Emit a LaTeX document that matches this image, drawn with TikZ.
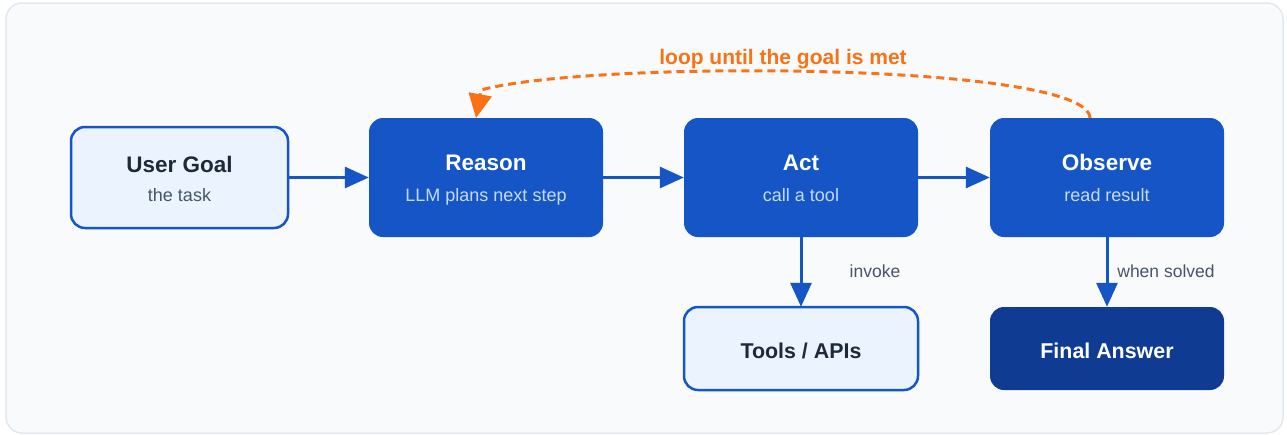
\documentclass[tikz,border=0pt]{standalone}
\usepackage{fontspec}
\setmainfont{Liberation Sans}
\usetikzlibrary{arrows.meta}
\definecolor{frameborder}{HTML}{E2E8F0}
\definecolor{framefill}{HTML}{F8FAFC}
\definecolor{mainblue}{HTML}{1555C5}
\definecolor{lightfill}{HTML}{EBF3FE}
\definecolor{darkblue}{HTML}{0F3C92}
\definecolor{darktext}{HTML}{1E293B}
\definecolor{graytext}{HTML}{475569}
\definecolor{subwhite}{HTML}{C6DBFB}
\definecolor{loopcol}{HTML}{F97316}
\tikzset{
  lightbox/.style={draw=mainblue, line width=2.5pt, fill=lightfill, rounded corners=14pt},
  bluebox/.style={fill=mainblue, rounded corners=14pt},
  darkbox/.style={fill=darkblue, rounded corners=14pt},
  flow/.style={draw=mainblue, line width=3pt, -{Triangle[length=24pt,width=21pt]}},
  loopline/.style={draw=loopcol, line width=3pt, dash pattern=on 8pt off 5pt, -{Triangle[length=24pt,width=23pt]}},
  ttl/.style={font=\fontsize{22.5}{26}\selectfont\bfseries, anchor=base, inner sep=0pt},
  sub/.style={font=\fontsize{18}{21}\selectfont, anchor=base, inner sep=0pt},
  lbl/.style={font=\fontsize{17.5}{20}\selectfont, text=graytext, anchor=base, inner sep=0pt},
}
\begin{document}
\begin{tikzpicture}[x=1pt,y=-1pt]
\useasboundingbox (0,0) rectangle (1287,434);
\fill[white] (0,0) rectangle (1287,434);
\draw[frameborder, line width=1.5pt, fill=framefill, rounded corners=16pt] (6,3) rectangle (1283,433);

% boxes
\path[lightbox] (71,127) rectangle (288,228);
\node[draw=none, minimum width=217pt, minimum height=101pt] (goal) at (179.5,177.5) {};
\path[bluebox] (369,118) rectangle (603,237);
\node[minimum width=234pt, minimum height=119pt] (reason) at (486,177.5) {};
\path[bluebox] (684,118) rectangle (918,237);
\node[minimum width=234pt, minimum height=119pt] (act) at (801,177.5) {};
\path[bluebox] (990,118) rectangle (1224,237);
\node[minimum width=234pt, minimum height=119pt] (observe) at (1107,177.5) {};
\path[lightbox] (684,307) rectangle (918,390);
\node[minimum width=234pt, minimum height=83pt] (tools) at (801,348.5) {};
\path[darkbox] (990,307) rectangle (1224,390);
\node[minimum width=234pt, minimum height=83pt] (final) at (1107,348.5) {};

% texts
\node[ttl, text=darktext] (goalt) at (179.5,172) {User Goal};
\node[sub, text=graytext] (goals) at (179.5,201) {the task};
\node[ttl, text=white] (reasont) at (486,170.5) {Reason};
\node[sub, text=subwhite] (reasons) at (486,201.5) {LLM plans next step};
\node[ttl, text=white] (actt) at (801,170.5) {Act};
\node[sub, text=subwhite] (acts) at (801,201.5) {call a tool};
\node[ttl, text=white] (obst) at (1107,170.5) {Observe};
\node[sub, text=subwhite] (obss) at (1107,201.5) {read result};
\node[ttl, text=darktext, font=\fontsize{21.4}{25}\selectfont\bfseries] (toolst) at (801,358) {Tools / APIs};
\node[ttl, text=white, font=\fontsize{21.4}{25}\selectfont\bfseries] (finalt) at (1107,358) {Final Answer};

% arrows
\draw[flow] (goal.east) -- (reason.west);
\draw[flow] (reason.east) -- (act.west);
\draw[flow] (act.east) -- (observe.west);
\draw[flow] (act.south) -- (tools.north);
\draw[flow] (observe.south) -- (final.north);
\node[lbl] (invoke) at (875,277) {invoke};
\node[lbl] (solved) at (1166,277) {when solved};

% loop
\coordinate (ls) at (1090,118);
\coordinate (lk) at (481,90);
\coordinate (le) at (476,118);
\draw[loopline] (ls) .. controls (1088,62) and (590,60) .. (lk) -- (le);
\node[font=\fontsize{21}{25}\selectfont\bfseries, text=loopcol, anchor=base, inner sep=0pt] (looplbl) at (783,64) {loop until the goal is met};
\end{tikzpicture}
\end{document}
